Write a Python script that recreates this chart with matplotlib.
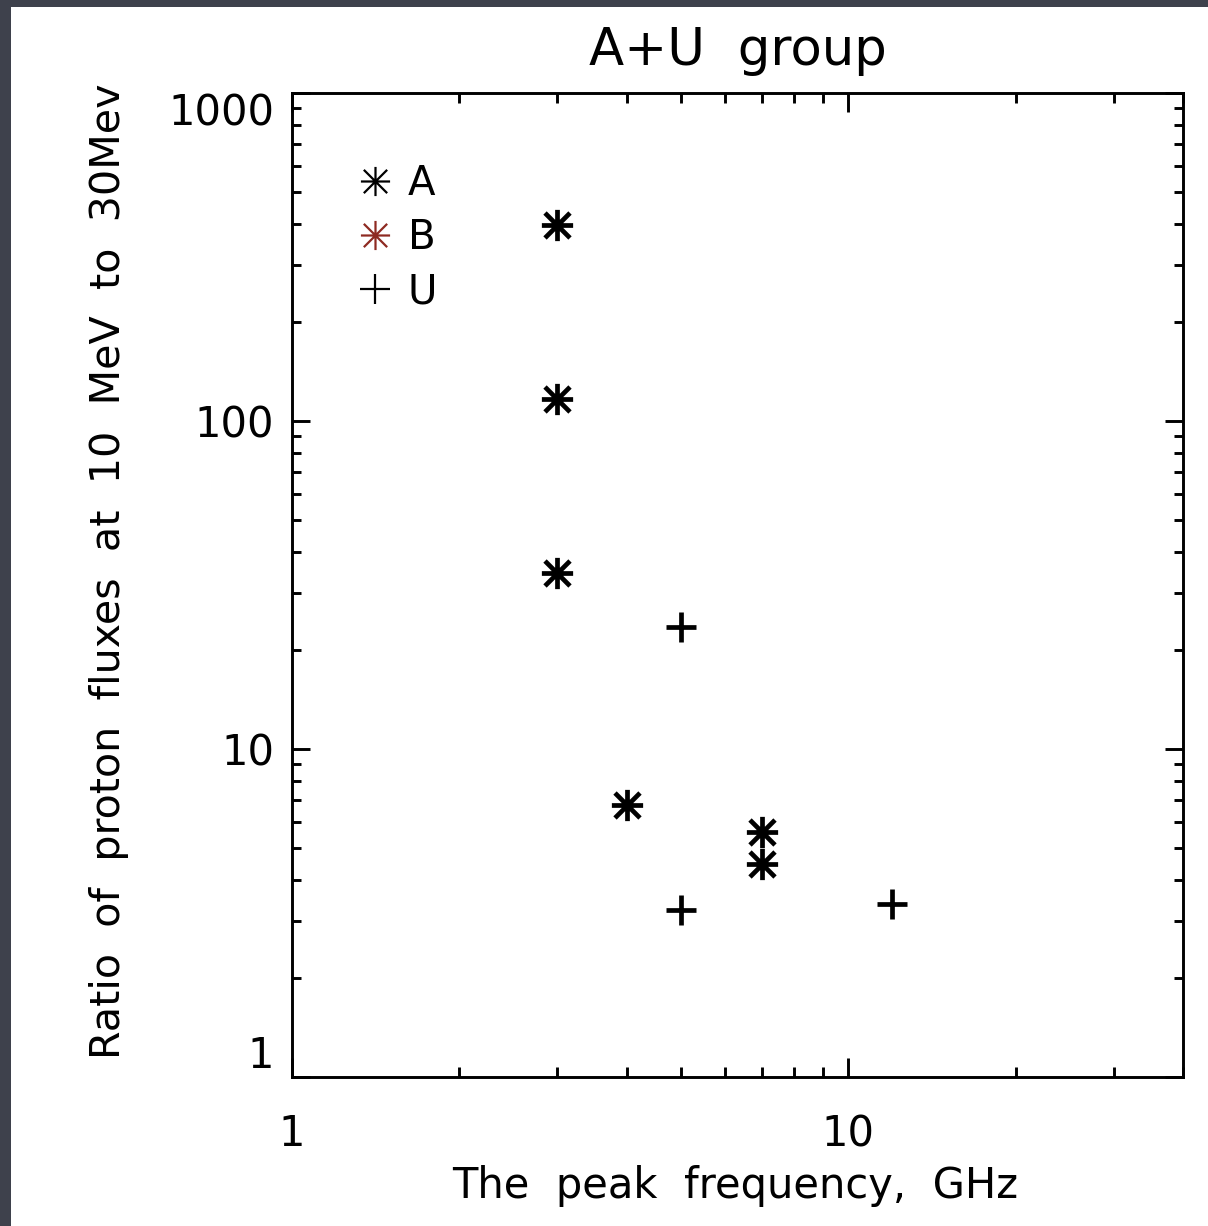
import numpy as np
import matplotlib
matplotlib.use("Agg")
import matplotlib.pyplot as plt
from matplotlib.path import Path
from matplotlib.patches import Rectangle
from matplotlib.lines import Line2D
from matplotlib.ticker import FixedLocator, LogLocator, NullFormatter

# peak frequency (GHz) and 10/30 MeV proton flux ratio
a_freq = [3, 3, 3, 4, 7, 7]
a_ratio = [396, 117, 34.5, 6.75, 5.6, 4.45]
u_freq = [5, 5, 12]
u_ratio = [23.5, 3.23, 3.37]

y_ticks = [1, 10, 100, 1000]
x_ticks = [1, 10]

plt.rcParams['font.family'] = ['DejaVu Sans']

# IDL-like asterisk: vertical, horizontal and two diagonals
d = 0.8
star = Path([(0, -1), (0, 1), (-1, 0), (1, 0),
             (-d, -d), (d, d), (-d, d), (d, -d)],
            [Path.MOVETO, Path.LINETO] * 4)

W, H = 1208, 1226
fig = plt.figure(figsize=(W / 100, H / 100), dpi=100, facecolor='#3e414c')
fig.patches.append(Rectangle((11 / W, 0), 1, 1 - 7 / H, transform=fig.transFigure,
                             facecolor='white', edgecolor='none', zorder=-1))

ax = fig.add_axes([292 / W, (H - 1077) / H, 891 / W, 984 / H])
ax.set_xscale('log')
ax.set_yscale('log')
ax.set_xlim(1, 40)
ax.set_ylim(1, 1000)

ax.plot(a_freq, a_ratio, ls='none', marker=star, ms=22.5, mew=3.4, color='black')
ax.plot(u_freq, u_ratio, ls='none', marker='+', ms=22, mew=3.4, color='black')

for s in ax.spines.values():
    s.set_linewidth(2.1)

ax.xaxis.set_major_locator(FixedLocator(x_ticks))
ax.yaxis.set_major_locator(FixedLocator(y_ticks))
ax.xaxis.set_minor_locator(LogLocator(base=10, subs=np.arange(2, 10), numticks=20))
ax.yaxis.set_minor_locator(LogLocator(base=10, subs=np.arange(2, 10), numticks=20))
ax.xaxis.set_minor_formatter(NullFormatter())
ax.yaxis.set_minor_formatter(NullFormatter())
ax.set_xticklabels([str(v) for v in x_ticks])
ax.set_yticklabels([str(v) for v in y_ticks])

ax.tick_params(which='both', direction='in', top=True, right=True, width=2.1, labelsize=30)
ax.tick_params(axis='x', which='major', length=14, pad=26)
ax.tick_params(axis='x', which='minor', length=7)
ax.tick_params(axis='y', which='major', length=13, pad=13)
ax.tick_params(axis='y', which='minor', length=6.5)

yt = ax.yaxis.get_major_ticks()
yt[0].label1.set_va('bottom')
yt[-1].label1.set_va('top')

ax.set_title('A+U  group', fontsize=37, y=1.0285, pad=0)
ax.set_xlabel('The  peak  frequency,  GHz', fontsize=30)
ax.xaxis.set_label_coords(0.497, -0.089)
ax.set_ylabel('Ratio  of  proton  fluxes  at  10  MeV  to  30Mev', fontsize=29.7, va='center')
ax.yaxis.set_label_coords(-0.205, 0.514)

handles = [
    Line2D([], [], ls='none', marker=star, ms=21, mew=1.6, color='black'),
    Line2D([], [], ls='none', marker=star, ms=21, mew=1.6, color='#8e2a22'),
    Line2D([], [], ls='none', marker='+', ms=21, mew=1.6, color='black'),
]
ax.legend(handles, ['A', 'B', 'U'], loc='upper left', bbox_to_anchor=(0.071, 0.928),
          frameon=False, fontsize=29, handlelength=1.0, handletextpad=0.3,
          labelspacing=0.35, borderpad=0, borderaxespad=0)

fig.savefig('out.png', dpi=100, facecolor=fig.get_facecolor())
